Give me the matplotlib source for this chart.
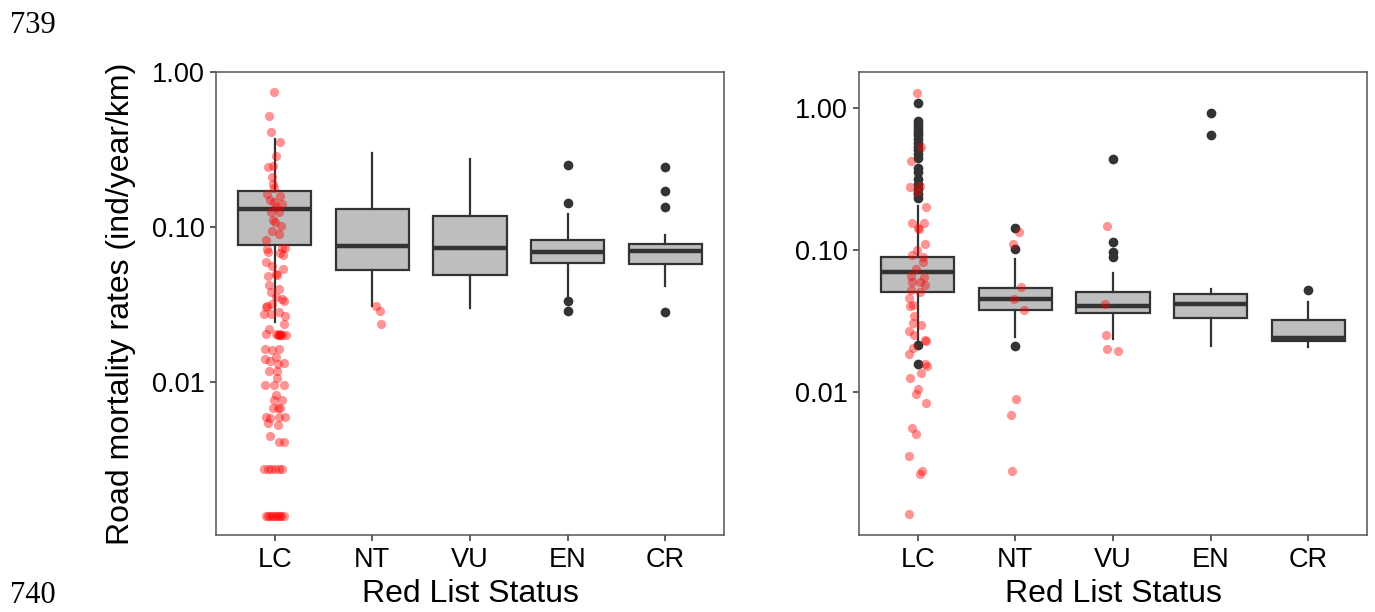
import numpy as np
import matplotlib.pyplot as plt

plt.rcParams['font.family'] = ['Liberation Sans', 'DejaVu Sans']

status = ['LC', 'NT', 'VU', 'EN', 'CR']
ytick_vals = [0.01, 0.10, 1.00]
ytick_labels = ['0.01', '0.10', '1.00']

# ---- left panel: box stats per status ----
left_med = [0.130, 0.0751, 0.0729, 0.0691, 0.0697]
left_q1 = [0.0767, 0.0528, 0.0491, 0.0581, 0.0572]
left_q3 = [0.170, 0.130, 0.117, 0.0822, 0.0778]
left_lo = [0.0242, 0.0307, 0.0298, 0.0351, 0.0412]
left_hi = [0.368, 0.298, 0.276, 0.1217, 0.0885]
left_fliers = [[], [], [], [0.249, 0.1434, 0.0331, 0.0288],
               [0.245, 0.170, 0.1337, 0.0281]]

# red points, left panel (values + horizontal jitter)
left_lc_red = [0.739, 0.521, 0.407, 0.354, 0.287, 0.244, 0.246, 0.210, 0.190,
               0.177, 0.162, 0.158, 0.145, 0.141, 0.134, 0.124, 0.125, 0.110,
               0.107, 0.101, 0.0940, 0.0818, 0.0723, 0.0687, 0.0729, 0.0733,
               0.0661, 0.0592, 0.0555, 0.0536, 0.0498, 0.0479, 0.0486, 0.0379,
               0.0398, 0.0351, 0.0343, 0.0310,
               0.0303, 0.0318, 0.0330, 0.0274, 0.0274, 0.0281, 0.0267, 0.0236,
               0.0219, 0.0204, 0.0204, 0.0199, 0.0199, 0.0199, 0.0199, 0.0163,
               0.0160, 0.0163, 0.0140, 0.0137, 0.0145, 0.0130, 0.0133, 0.0118,
               0.0106, 0.00957, 0.00957, 0.00957, 0.00824, 0.00762, 0.00762,
               0.00676, 0.00676, 0.00588, 0.00583, 0.00588, 0.00588, 0.00545,
               0.00527, 0.00447, 0.00409, 0.00409,
               0.00272, 0.00272, 0.00272, 0.00272, 0.00272, 0.00272,
               0.00136, 0.00136, 0.00136, 0.00136, 0.00136, 0.00136, 0.00136,
               0.00136, 0.00136, 0.00136,
               0.0199, 0.0204, 0.0676, 0.00676, 0.0118, 0.150, 0.0900, 0.0420]
left_lc_jit = [-0.007, -0.058, -0.034, 0.051, 0.017, -0.064, -0.013, -0.024, -0.017,
               -0.007, -0.082, 0.051, -0.007, 0.072, 0.017, -0.041, 0.044, -0.013,
               0.003, 0.061, -0.024, -0.092, -0.075, -0.064, 0.079, 0.105,
               0.085, -0.092, -0.024, 0.085, 0.010, -0.069, 0.028, -0.041,
               0.044, 0.010, 0.079, -0.075,
               -0.092, -0.024, 0.095, -0.110, -0.041, 0.044, 0.105, 0.095,
               -0.058, -0.085, 0.010, 0.044, 0.079, 0.113, 0.060, -0.099,
               -0.024, 0.044, -0.099, -0.051, 0.010, 0.038, 0.095, -0.058,
               0.028, -0.099, -0.007, 0.095, 0.010, -0.007, 0.072,
               -0.013, 0.051, -0.092, -0.051, 0.044, 0.105, -0.064,
               0.038, -0.051, 0.044, 0.095,
               -0.110, -0.072, -0.034, 0.003, 0.041, 0.079,
               -0.090, -0.070, -0.050, -0.030, -0.010, 0.010, 0.030,
               0.050, 0.070, 0.100,
               0.030, 0.060, 0.050, 0.030, 0.020, -0.050, 0.040, -0.060]
left_nt_red = [0.0307, 0.0288, 0.0237]
left_nt_jit = [0.038, 0.075, 0.085]

# ---- right panel: box stats per status ----
right_med = [0.0701, 0.0454, 0.0401, 0.0416, 0.0240]
right_q1 = [0.0508, 0.0380, 0.0360, 0.0335, 0.0228]
right_q3 = [0.0897, 0.0542, 0.0510, 0.0489, 0.0320]
right_lo = [0.0227, 0.0244, 0.0237, 0.0210, 0.0208]
right_hi = [0.204, 0.0865, 0.0693, 0.0535, 0.0430]
right_fliers = [[1.080, 0.815, 0.776, 0.740, 0.705, 0.671, 0.640, 0.609, 0.571,
                 0.535, 0.502, 0.471, 0.441, 0.376, 0.352, 0.315, 0.290, 0.268,
                 0.247, 0.231, 0.0216, 0.0159],
                [0.142, 0.101, 0.0213],
                [0.436, 0.1138, 0.0968, 0.0893],
                [0.927, 0.650],
                [0.0525]]

right_lc_red = [1.274, 0.535, 0.422, 0.278, 0.284, 0.256, 0.200, 0.155, 0.154,
                0.142, 0.140, 0.111, 0.0922, 0.100, 0.0897, 0.0828, 0.0732,
                0.0657, 0.0650, 0.060, 0.060, 0.0569, 0.0525, 0.0511, 0.0459,
                0.0405, 0.0412, 0.0341, 0.0306, 0.0298, 0.0268, 0.0254, 0.0234,
                0.0230, 0.0205, 0.0186, 0.0159, 0.0154, 0.0137, 0.0126, 0.0106,
                0.00975, 0.00834, 0.00563, 0.00505, 0.00356, 0.00266, 0.00277,
                0.00139]
right_lc_jit = [-0.007, 0.030, -0.070, -0.080, 0.020, -0.010, 0.085, -0.055, 0.065,
                0.000, 0.013, 0.075, -0.055, -0.010, 0.058, 0.050, -0.017,
                -0.070, 0.065, 0.024, -0.060, 0.075, -0.072, 0.024, -0.085,
                -0.080, -0.044, -0.038, -0.051, 0.030, -0.089, -0.034, 0.075,
                0.085, -0.051, -0.085, 0.075, 0.092, 0.034, -0.080, 0.000,
                -0.017, 0.085, -0.055, -0.020, -0.089, 0.024, 0.048,
                -0.085]
right_nt_red = [0.134, 0.111, 0.0553, 0.0451, 0.0376, 0.00889, 0.00687, 0.00277]
right_nt_jit = [0.037, -0.021, 0.057, -0.017, 0.088, 0.003, -0.048, -0.035]
right_vu_red = [0.148, 0.0416, 0.0252, 0.0201, 0.0194]
right_vu_jit = [-0.066, -0.080, -0.070, -0.059, 0.047]

BOX_FILL = '#BEBEBE'
DARK = '#333333'


def draw_panel(ax, med, q1, q3, lo, hi, fliers, reds, ylim):
    stats = [dict(med=m, q1=a, q3=b, whislo=l, whishi=h, fliers=f)
             for m, a, b, l, h, f in zip(med, q1, q3, lo, hi, fliers)]
    ax.bxp(stats, positions=range(1, 6), widths=0.75, patch_artist=True,
           showcaps=False,
           boxprops=dict(facecolor=BOX_FILL, edgecolor=DARK, linewidth=1.6),
           whiskerprops=dict(color=DARK, linewidth=1.6),
           medianprops=dict(color=DARK, linewidth=3.2, solid_capstyle='butt'),
           flierprops=dict(marker='o', markerfacecolor=DARK, markeredgecolor='none',
                           markersize=7))
    for idx, vals, jit in reds:
        ax.scatter(idx + np.array(jit), vals, s=44, color='red', alpha=0.42,
                   linewidths=0, zorder=5)
    ax.set_yscale('log')
    ax.set_ylim(*ylim)
    ax.set_xlim(0.4, 5.6)
    ax.set_yticks(ytick_vals)
    ax.set_yticklabels(ytick_labels)
    ax.minorticks_off()
    ax.set_xticks(range(1, 6))
    ax.set_xticklabels(status)
    ax.tick_params(axis='both', length=4.3, width=1.1, color=DARK,
                   labelsize=19.5, labelcolor='black')
    ax.tick_params(axis='x', pad=4.5)
    for sp in ax.spines.values():
        sp.set_color('#555555')
        sp.set_linewidth(1.1)
    ax.set_xlabel('Red List Status', fontsize=23, labelpad=4.5)


fig = plt.figure(figsize=(13.75, 6.12), dpi=100)
ax1 = fig.add_axes([216 / 1375, 1 - 535 / 612, 508 / 1375, 463 / 612])
ax2 = fig.add_axes([859 / 1375, 1 - 535 / 612, 508 / 1375, 463 / 612])

draw_panel(ax1, left_med, left_q1, left_q3, left_lo, left_hi, left_fliers,
           [(1, left_lc_red, left_lc_jit), (2, left_nt_red, left_nt_jit)],
           (10 ** -2.99, 1.0))
draw_panel(ax2, right_med, right_q1, right_q3, right_lo, right_hi, right_fliers,
           [(1, right_lc_red, right_lc_jit), (2, right_nt_red, right_nt_jit),
            (3, right_vu_red, right_vu_jit)],
           (10 ** -3.005, 10 ** 0.253))

ax1.set_ylabel('Road mortality rates (ind/year/km)', fontsize=23)
ax1.yaxis.set_label_coords(-0.158, 0.5)

# line numbers of the manuscript page
fig.text(10 / 1375, 1 - 33 / 612, '739', family='Liberation Serif', fontsize=22,
         va='baseline')
fig.text(10 / 1375, 2 / 612, '740', family='Liberation Serif', fontsize=22,
         va='bottom')

fig.savefig('out.png', dpi=100)
